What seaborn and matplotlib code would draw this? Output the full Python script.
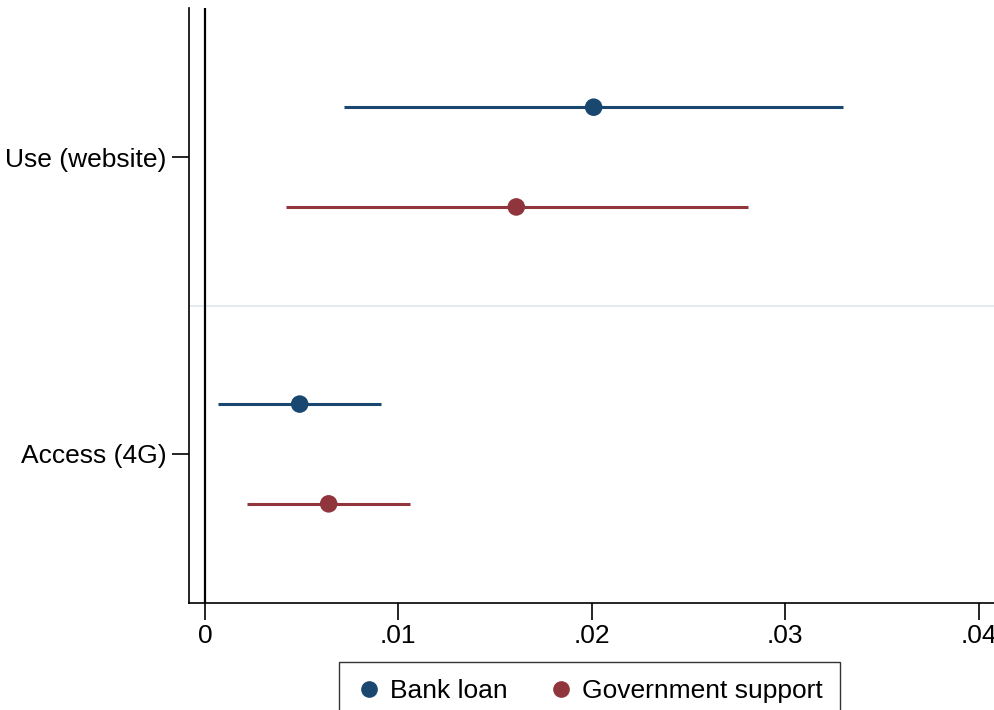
import numpy as np
import pandas as pd
import matplotlib
matplotlib.use("Agg")
import matplotlib.pyplot as plt
import seaborn as sns

# coefficient estimates with 95% CIs
categories = ["Use (website)", "Access (4G)"]
groups = ["Bank loan", "Government support"]
coef_bank = [0.0201, 0.0049]
lo_bank = [0.0072, 0.0007]
hi_bank = [0.0330, 0.0091]
coef_gov = [0.0161, 0.0064]
lo_gov = [0.0042, 0.0022]
hi_gov = [0.0281, 0.0106]
xticks = [0, 0.01, 0.02, 0.03, 0.04]
xticklabels = ["0", ".01", ".02", ".03", ".04"]

colors = {"Bank loan": "#1a476f", "Government support": "#90353b"}
offsets = {"Bank loan": -0.168, "Government support": 0.168}

rows = []
for g, c, lo, hi in [("Bank loan", coef_bank, lo_bank, hi_bank),
                     ("Government support", coef_gov, lo_gov, hi_gov)]:
    for i, cat in enumerate(categories):
        rows.append({"category": cat, "group": g, "coef": c[i], "lo": lo[i], "hi": hi[i],
                     "ypos": i + offsets[g]})
df = pd.DataFrame(rows)

sns.set_style("white")
plt.rcParams["font.family"] = ["Liberation Sans", "DejaVu Sans"]
plt.rcParams["text.color"] = "black"
plt.rcParams["xtick.color"] = "black"
plt.rcParams["ytick.color"] = "black"

fig = plt.figure(figsize=(9.94, 7.10), dpi=100)
ax = fig.add_axes([0.190, 0.1507, 0.810, 0.838])

# separator between categories
ax.axhline(0.5, color="#dde9ee", lw=1.2, zorder=0)
# zero reference line
ax.axvline(0, color="black", lw=1.6, zorder=1)

for g in groups:
    sub = df[df["group"] == g]
    ax.hlines(sub["ypos"], sub["lo"], sub["hi"], color=colors[g], lw=2.2, zorder=2)

sns.scatterplot(data=df, x="coef", y="ypos", hue="group", palette=colors,
                s=160, edgecolor="none", ax=ax, zorder=3, legend=False)

ax.set_xlim(-0.00083, 0.0408)
ax.set_ylim(1.502, -0.502)
ax.set_xticks(xticks)
ax.set_xticklabels(xticklabels)
ax.set_yticks(range(len(categories)))
ax.set_yticklabels(categories)
ax.set_xlabel("")
ax.set_ylabel("")
ax.tick_params(axis="both", direction="out", length=12, width=1.2, color="black",
               labelcolor="black", labelsize=19, pad=4, bottom=True, left=True)
ax.tick_params(axis="x", pad=3)
for s in ["top", "right"]:
    ax.spines[s].set_visible(False)
for s in ["left", "bottom"]:
    ax.spines[s].set_color("black")
    ax.spines[s].set_linewidth(1.2)

handles = [plt.Line2D([], [], marker="o", ls="", color=colors[g], markersize=11) for g in groups]
leg = fig.legend(handles, groups, loc="upper center", bbox_to_anchor=(0.593, 0.0676),
                 ncol=2, fontsize=19, frameon=True, fancybox=False, handletextpad=0.3,
                 columnspacing=1.5, borderpad=0.65, handlelength=1.0, borderaxespad=0)
leg.get_frame().set_edgecolor("black")
leg.get_frame().set_linewidth(1.0)

fig.savefig("out.png", dpi=100)
